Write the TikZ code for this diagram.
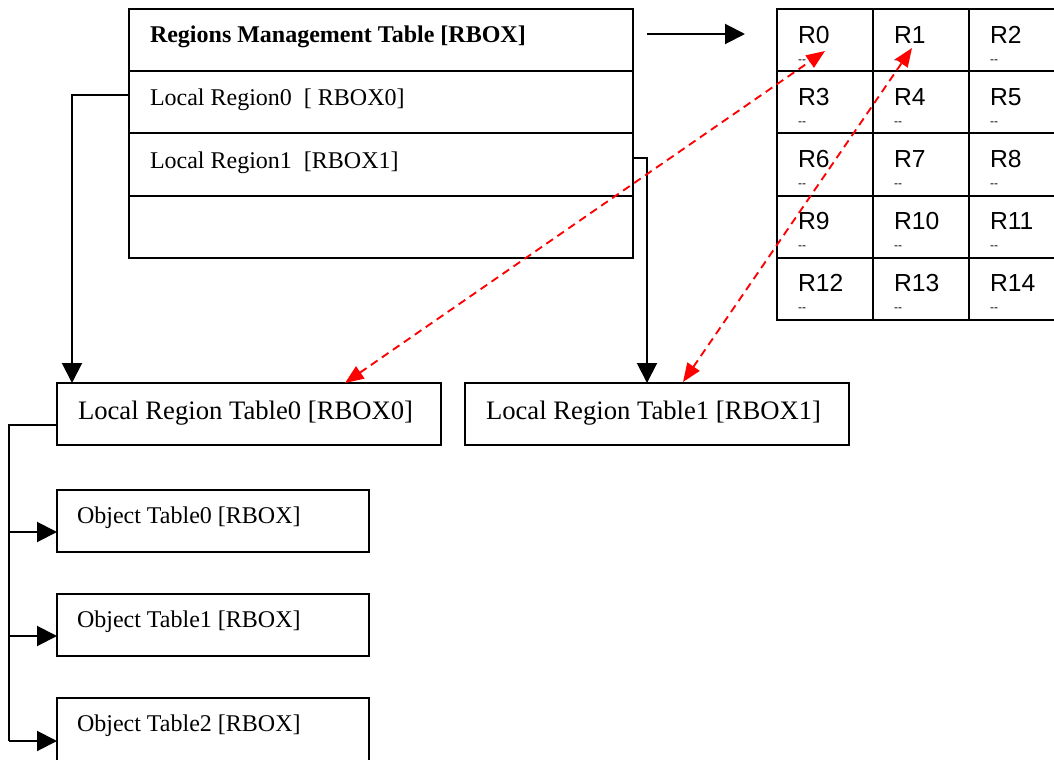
\documentclass[tikz,border=0pt]{standalone}
\usepackage{fontspec}
\setmainfont{Liberation Serif}
\setsansfont{Liberation Sans}
\usetikzlibrary{arrows.meta}
\begin{document}
\begin{tikzpicture}[x=0.75pt,y=-0.75pt,
  box/.style={draw,line width=1.5pt,inner sep=0pt,outer sep=0pt,anchor=north west},
  mtext/.style={inner sep=0pt,outer sep=0pt,anchor=base west,font=\fontsize{18}{20}\selectfont},
  lrtext/.style={inner sep=0pt,outer sep=0pt,anchor=base west,font=\fontsize{20}{22}\selectfont},
  gtext/.style={inner sep=0pt,outer sep=0pt,anchor=base west,font=\sffamily\fontsize{18.5}{20}\selectfont},
  dtext/.style={inner sep=0pt,outer sep=0pt,anchor=base west,font=\sffamily\fontsize{9}{9}\selectfont},
  blk/.style={line width=1.5pt,-{Triangle[length=15pt,width=15pt]}},
  blkline/.style={line width=1.5pt},
  redarr/.style={red,line width=1.4pt,dash pattern=on 6pt off 4pt,{Triangle[length=14pt,width=11pt]}-{Triangle[length=14pt,width=11pt]}}
]
\clip (0,0) rectangle (1054,760);
% main table
\node[box,minimum width=378pt,minimum height=46.5pt] (mt0) at (129,9) {};
\node[box,minimum width=378pt,minimum height=46.5pt] (mt1) at (129,71) {};
\node[box,minimum width=378pt,minimum height=47.25pt] (mt2) at (129,133) {};
\node[box,minimum width=378pt,minimum height=46.5pt] (mt3) at (129,196) {};
\node[mtext] (mtt0) at (150,42) {\bfseries Regions Management Table [RBOX]};
\node[mtext] (mtt1) at (150,105) {Local Region0\ \ [ RBOX0]};
\node[mtext] (mtt2) at (150,168) {Local Region1\ \ [RBOX1]};
% grid
\foreach \r in {0,...,4} {
  \foreach \c in {0,1,2} {
    \pgfmathtruncatemacro\n{3*\r+\c}
    \node[box,minimum width=72pt,minimum height=46.65pt] (g\n) at ({777+96*\c},{9+62.2*\r}) {};
    \node[gtext] (gl\n) at ({798+96*\c},{43+62.2*\r}) {R\n};
    \node[dtext] (gd\n) at ({798+96*\c},{63+62.2*\r}) {{-}{-}};
  }
}
% local region tables
\node[box,minimum width=288pt,minimum height=46.5pt] (lrt0) at (57,383) {};
\node[box,minimum width=288pt,minimum height=46.5pt] (lrt1) at (465,383) {};
\node[lrtext] (lrtt0) at (78,419) {Local Region Table0 [RBOX0]};
\node[lrtext] (lrtt1) at (486,419) {Local Region Table1 [RBOX1]};
% object tables
\node[box,minimum width=234pt,minimum height=46.5pt] (ot0) at (57,490) {};
\node[box,minimum width=234pt,minimum height=46.5pt] (ot1) at (57,594) {};
\node[box,minimum width=234pt,minimum height=48pt] (ot2) at (57,698) {};
\node[mtext] (ott0) at (77,523) {Object Table0 [RBOX]};
\node[mtext] (ott1) at (77,627) {Object Table1 [RBOX]};
\node[mtext] (ott2) at (77,731) {Object Table2 [RBOX]};
% coordinates
\coordinate (a1) at (647,34);
\coordinate (a2) at (745,34);
\coordinate (c0) at (72,383);
\coordinate (c1) at (647,383);
\coordinate (tx) at (9,0);
\coordinate (r0a) at (345,383);
\coordinate (r0b) at (825,51);
\coordinate (r1a) at (683,382);
\coordinate (r1b) at (912,48);
% black connectors
\draw[blk] (a1) -- (a2);
\draw[blk] ([yshift=5.25pt]mt1.west) -| (c0);
\draw[blk] ([yshift=5.25pt]mt2.east) -| (c1);
\draw[blkline] ([yshift=-8.25pt]lrt0.west) -| ([yshift=-8.25pt]tx |- ot2.west);
\draw[blk] ([yshift=-8.25pt]tx |- ot0.west) -- ([yshift=-8.25pt]ot0.west);
\draw[blk] ([yshift=-8.25pt]tx |- ot1.west) -- ([yshift=-8.25pt]ot1.west);
\draw[blk] ([yshift=-8.25pt]tx |- ot2.west) -- ([yshift=-8.25pt]ot2.west);
% red dashed connectors
\draw[redarr] (r0a) -- (r0b);
\draw[redarr] (r1a) -- (r1b);
\end{tikzpicture}
\end{document}
